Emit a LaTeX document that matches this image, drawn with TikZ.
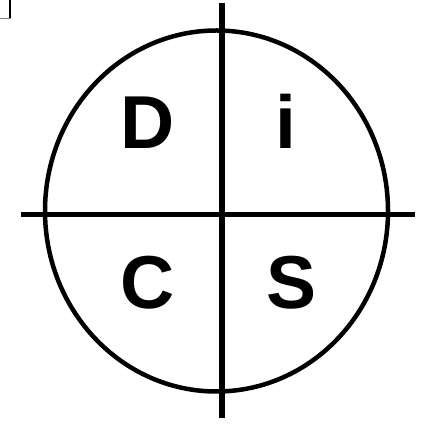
\documentclass[tikz,border=0pt]{standalone}
\usepackage{fontspec}
\setmainfont{Liberation Sans}
\usetikzlibrary{positioning,calc}

\begin{document}
\begin{tikzpicture}[x=1pt, y=1pt,
    quadletter/.style={anchor=base, font=\fontsize{75}{75}\selectfont\bfseries, inner sep=0pt},
    crossline/.style={line width=5.5pt},
    ring/.style={line width=4.5pt}]
    \useasboundingbox (0,0) rectangle (423,425);

    % Corner mark
    \draw[line width=1.3pt] (10,425) -- (10,406.5);
    \draw[line width=1.3pt, gray] (0,406.5) -- (10.6,406.5);

    % Circle
    \draw[ring] (216.5,214) ellipse [x radius=171.5, y radius=180.5];

    % Axes
    \coordinate (top) at (222,422);
    \coordinate (bottom) at (222,7);
    \coordinate (left) at (21,210.5);
    \coordinate (right) at (415,210.5);
    \draw[crossline] (top) -- (bottom);
    \draw[crossline] (left) -- (right);

    % Labels
    \node[quadletter] (dom) at (148,276) {D};
    \node[quadletter] (infl) at (285.5,276) {i};
    \node[quadletter] (cons) at (147.5,116) {C};
    \node[quadletter] (stead) at (292,116) {S};
\end{tikzpicture}
\end{document}
